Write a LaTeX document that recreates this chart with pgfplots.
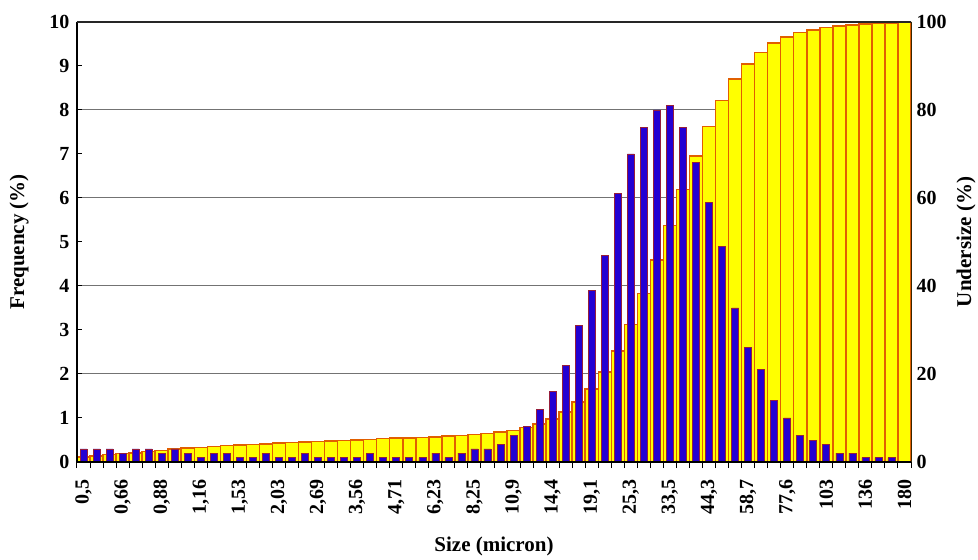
\documentclass[border=0pt]{standalone}
\usepackage{fontspec}
\setmainfont{Liberation Serif}
\usepackage{pgfplots}
\pgfplotsset{compat=1.18}
\usepackage{pgfplotstable}

\pgfplotstableread{
x freq under
0 0.3 1.1
1 0.3 1.4
2 0.3 1.7
3 0.2 1.9
4 0.3 2.1
5 0.3 2.4
6 0.2 2.6
7 0.3 2.9
8 0.2 3.2
9 0.1 3.3
10 0.2 3.5
11 0.2 3.7
12 0.1 3.9
13 0.1 4.0
14 0.2 4.1
15 0.1 4.3
16 0.1 4.4
17 0.2 4.5
18 0.1 4.7
19 0.1 4.8
20 0.1 4.9
21 0.1 5.0
22 0.2 5.1
23 0.1 5.3
24 0.1 5.4
25 0.1 5.5
26 0.1 5.6
27 0.2 5.7
28 0.1 5.9
29 0.2 6.0
30 0.3 6.2
31 0.3 6.5
32 0.4 6.8
33 0.6 7.2
34 0.8 7.8
35 1.2 8.6
36 1.6 9.8
37 2.2 11.4
38 3.1 13.6
39 3.9 16.6
40 4.7 20.4
41 6.1 25.2
42 7.0 31.3
43 7.6 38.3
44 8.0 45.9
45 8.1 53.8
46 7.6 61.9
47 6.8 69.5
48 5.9 76.3
49 4.9 82.2
50 3.5 87.0
51 2.6 90.5
52 2.1 93.1
53 1.4 95.2
54 1.0 96.6
55 0.6 97.6
56 0.5 98.2
57 0.4 98.7
58 0.2 99.1
59 0.2 99.3
60 0.1 99.5
61 0.1 99.7
62 0.1 99.8
63 0.0 100
}\data

\definecolor{barblue}{RGB}{35,0,210}
\definecolor{baryel}{RGB}{255,255,0}
\definecolor{barorange}{RGB}{225,95,0}
\definecolor{blueedge}{RGB}{150,30,60}

\begin{document}
\begin{tikzpicture}
\useasboundingbox (-77pt,-98pt) rectangle (901pt,462pt);
\pgfplotsset{
  common/.style={
    width=834pt, height=440pt, scale only axis,
    at={(0pt,0pt)}, anchor=south west,
    xmin=-0.5, xmax=63.5, ymin=0,
    /pgf/number format/assume math mode=true,
    ticklabel style={font=\fontsize{20}{24}\selectfont\bfseries},
    axis line style={line width=1.6pt, black},
    tick style={black, line width=1pt},
  }
}
% cumulative (right axis)
\begin{axis}[common,
  ymax=100,
  axis y line*=right, axis x line=none,
  ytick={0,20,...,100}, minor y tick num=4,
  tick align=inside, major tick length=7pt, minor tick length=6pt,
  yticklabel style={xshift=2pt},
  ymajorgrids, grid style={gray!90!black, line width=1pt},
  every axis y label/.style={at={(axis description cs:1.066,0.5)}, rotate=90, anchor=center, font=\fontsize{21}{25}\selectfont\bfseries},
  ylabel={Undersize (\%)},
  ybar, bar width=1,
]
\addplot[fill=baryel, draw=barorange, line width=1.5pt] table[x=x, y=under] {\data};
\end{axis}
% frequency (left axis)
\begin{axis}[common,
  ymax=10,
  axis y line*=left, axis x line=none,
  ytick={0,1,...,10},
  tick align=inside, major tick length=5pt,
  yticklabel style={xshift=-4pt},
  every axis y label/.style={at={(axis description cs:-0.0695,0.5)}, rotate=90, anchor=center, font=\fontsize{21}{25}\selectfont\bfseries},
  ylabel={Frequency (\%)},
  ybar, bar width=7pt,
]
\addplot[fill=barblue, draw=blueedge, line width=0.6pt] table[x=x, y=freq] {\data};
\end{axis}
% x axis
\begin{axis}[common,
  ymax=10,
  axis y line=none, axis x line*=bottom,
  xtick={0,3,...,63},
  xticklabels={{0,5},{0,66},{0,88},{1,16},{1,53},{2,03},{2,69},{3,56},{4,71},{6,23},{8,25},{10,9},{14,4},{19,1},{25,3},{33,5},{44,3},{58,7},{77,6},{103},{136},{180}},
  major tick style={draw=none}, major tick length=0pt,
  minor xtick={-0.5,0.5,...,63.5}, minor tick length=6pt,
  tick align=outside,
  xticklabel style={rotate=90, anchor=east, font=\fontsize{20}{24}\selectfont\bfseries},
  xticklabel shift=14pt,
  every axis x label/.style={at={(axis description cs:0.5,-0.193)}, anchor=center, font=\fontsize{21}{25}\selectfont\bfseries},
  xlabel={Size (micron)},
]
\addplot[draw=none] coordinates {(0,0)};
\draw[black!85, line width=1.3pt] (rel axis cs:0,1) -- (rel axis cs:1,1);
\end{axis}
\end{tikzpicture}
\end{document}
